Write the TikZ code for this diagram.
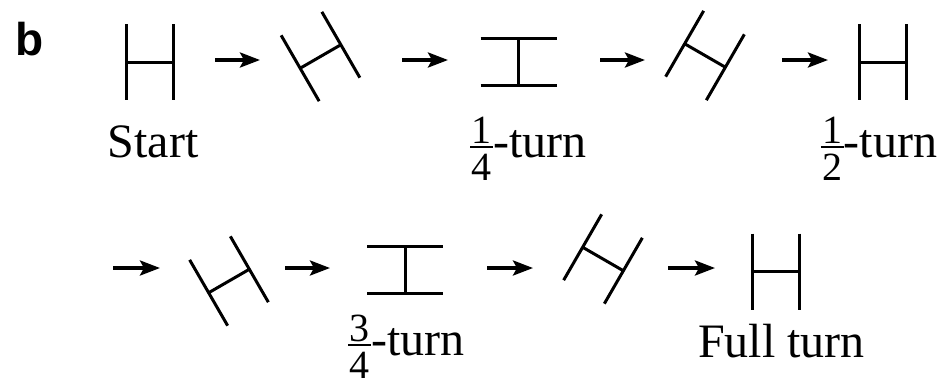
\documentclass[tikz,border=0pt]{standalone}
\usepackage{fontspec}
\setmainfont{Liberation Serif}
\newfontfamily\panelfont{Liberation Sans}
\usetikzlibrary{arrows.meta}

\newcommand\turnfrac[2]{{\fontsize{40}{40}\selectfont
  \setbox0\hbox{#1}\setbox2\hbox{#2}%
  \dimen0=\ifdim\wd0>\wd2 \wd0\else\wd2\fi
  \advance\dimen0 by 3pt
  \rlap{\raisebox{14pt}{\makebox[\dimen0]{#1}}}%
  \rlap{\raisebox{9pt}{\rule{\dimen0}{2pt}}}%
  \raisebox{-23.5pt}{\makebox[\dimen0]{#2}}}}

\tikzset{
  hshape/.pic={\draw (-23.5,-38) -- (-23.5,38) (23.5,-38) -- (23.5,38) (-23.5,0) -- (23.5,0);}
}

\begin{document}
\begin{tikzpicture}[x=1pt, y=-1pt, line width=3pt,
  turnarrow/.style 2 args={-{Stealth[length=20pt, width=15pt, inset=4pt]}, line width=3.5pt, shorten <=#1pt, shorten >=#2pt},
  lbl/.style={anchor=base, inner sep=0pt, font=\fontsize{48}{56}\selectfont}]
  \useasboundingbox (0,0) rectangle (943,381);

  \coordinate (row1) at (0,60);
  \coordinate (row2) at (0,268);
  \coordinate (s1) at (149.5,62);
  \coordinate (s2) at (320.5,56.5);
  \coordinate (s3) at (518.5,62);
  \coordinate (s4) at (705,55.5);
  \coordinate (s5) at (882.5,62);
  \coordinate (in2) at (113,268);
  \coordinate (s6) at (229,281);
  \coordinate (s7) at (405,270);
  \coordinate (s8) at (603,259);
  \coordinate (s9) at (776,271.5);

  \foreach \s/\r in {s1/0, s2/30, s3/90, s4/-30, s5/0, s6/30, s7/90, s8/-30, s9/0}
    \pic[rotate=\r] at (\s) {hshape};

  \draw[turnarrow={65.5}{60.5}] (s1 |- row1) -- (s2 |- row1);
  \draw[turnarrow={81.5}{70.5}] (s2 |- row1) -- (s3 |- row1);
  \draw[turnarrow={81.5}{60}] (s3 |- row1) -- (s4 |- row1);
  \draw[turnarrow={77}{54.5}] (s4 |- row1) -- (s5 |- row1);
  \draw[turnarrow={0}{69}] (in2) -- (s6 |- row2);
  \draw[turnarrow={56}{75}] (s6 |- row2) -- (s7 |- row2);
  \draw[turnarrow={82}{70}] (s7 |- row2) -- (s8 |- row2);
  \draw[turnarrow={65}{61}] (s8 |- row2) -- (s9 |- row2);

  \node[anchor=base, inner sep=0pt, font=\panelfont\bfseries\fontsize{46}{50}\selectfont] (panel) at (29.5,55) {b};
  \node[lbl] (start) at (153,157) {Start};
  \node[lbl] (quarter) at (528.5,157) {\turnfrac{1}{4}-turn};
  \node[lbl] (half) at (879,157) {\turnfrac{1}{2}-turn};
  \node[lbl] (threeq) at (406.5,355) {\turnfrac{3}{4}-turn};
  \node[lbl] (full) at (781.5,357) {Full turn};
\end{tikzpicture}
\end{document}
